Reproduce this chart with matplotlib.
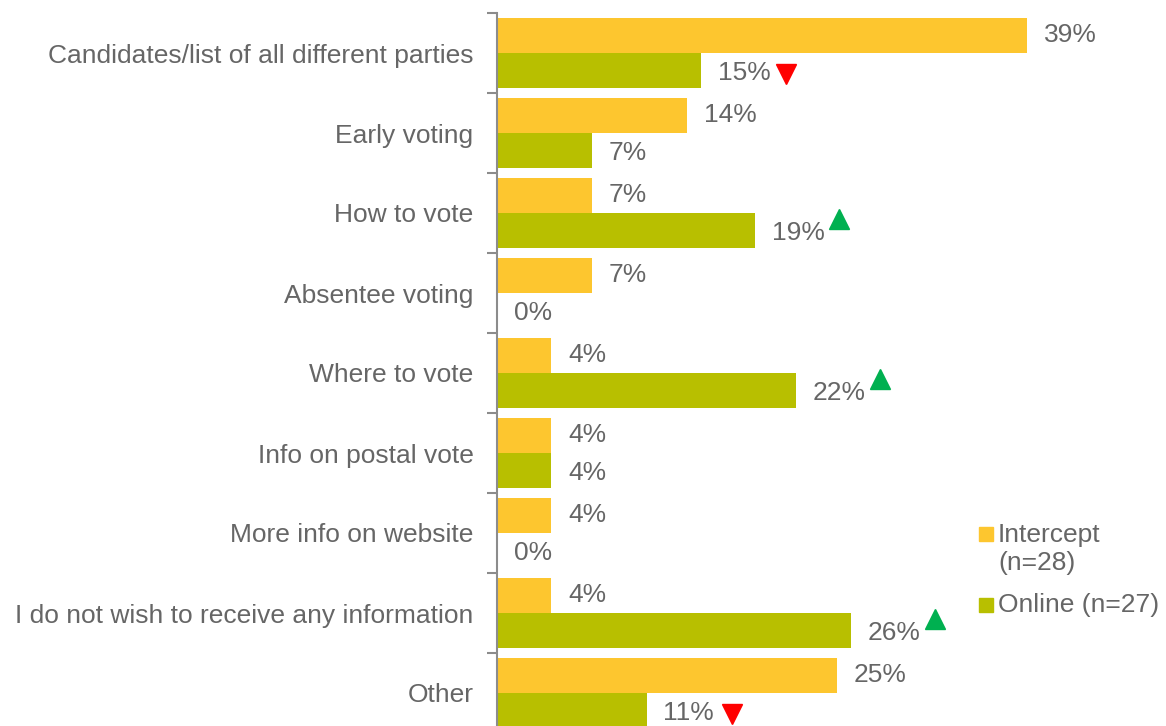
import matplotlib
matplotlib.use("Agg")
import matplotlib.pyplot as plt
from matplotlib.patches import Rectangle
from matplotlib.transforms import offset_copy

plt.rcParams['font.family'] = ['Liberation Sans', 'DejaVu Sans']

categories = [
    "Candidates/list of all different parties",
    "Early voting",
    "How to vote",
    "Absentee voting",
    "Where to vote",
    "Info on postal vote",
    "More info on website",
    "I do not wish to receive any information",
    "Other",
]
intercept = [39, 14, 7, 7, 4, 4, 4, 4, 25]
online = [15, 7, 19, 0, 22, 4, 0, 26, 11]
# significance flags for the online series: +1 higher, -1 lower, 0 none
online_sig = [-1, 0, 1, 0, 1, 0, 0, 1, -1]
series_labels = ["Intercept\n(n=28)", "Online (n=27)"]

C_INT = "#FDC62F"
C_ONL = "#B8BF00"
TXT = "#666666"
AXC = "#8C8C8C"
FS = 19

W, H = 1166, 726
fig = plt.figure(figsize=(W / 100, H / 100), dpi=100)
# axes spans 13px..733px vertically (last group runs past the bottom edge)
ax = fig.add_axes([497 / W, (H - 733) / H, 612 / W, 720 / H])
ax.set_xlim(0, 45)
n = len(categories)
ax.set_ylim(n, 0)

bh = 35 / 80
up_tr = offset_copy(ax.transData, fig=fig, x=84, y=12, units='dots')
dn_tr = offset_copy(ax.transData, fig=fig, x=85, y=-3, units='dots')
for i in range(n):
    yi = i + 0.5 - bh / 2
    yo = i + 0.5 + bh / 2
    ax.barh(yi, intercept[i], height=bh, color=C_INT, align='center')
    ax.barh(yo, online[i], height=bh, color=C_ONL, align='center')
    ax.annotate(f"{intercept[i]}%", xy=(intercept[i], yi), xytext=(12, 0),
                textcoords='offset points', va='center', ha='left', fontsize=FS, color=TXT)
    ax.annotate(f"{online[i]}%", xy=(online[i], yo), xytext=(12, -2),
                textcoords='offset points', va='center', ha='left', fontsize=FS, color=TXT)
    if online_sig[i] > 0:
        ax.plot(online[i], yo, marker='^', markersize=14, color="#00B050",
                linestyle='none', transform=up_tr, clip_on=False)
    elif online_sig[i] < 0:
        ax.plot(online[i], yo, marker='v', markersize=14, color="#FF0000",
                linestyle='none', transform=dn_tr, clip_on=False)

ax.set_yticks(range(n + 1))
ax.set_yticklabels([])
ax.set_yticks([i + 0.5 for i in range(n)], minor=True)
ax.set_yticklabels(categories, minor=True, fontsize=FS, color=TXT)
ax.tick_params(axis='y', which='major', length=7, width=1.5, color=AXC, direction='out')
ax.tick_params(axis='y', which='minor', length=0, pad=17)
ax.set_xticks([])
for s in ['top', 'right', 'bottom']:
    ax.spines[s].set_visible(False)
ax.spines['left'].set_color(AXC)
ax.spines['left'].set_linewidth(1.5)

# legend
def fy(py):
    return (H - py) / H

fig.patches.append(Rectangle((979 / W, fy(541)), 14 / W, 14 / H, color=C_INT,
                             transform=fig.transFigure, figure=fig))
fig.patches.append(Rectangle((979 / W, fy(612)), 14 / W, 14 / H, color=C_ONL,
                             transform=fig.transFigure, figure=fig))
fig.text(998 / W, fy(549), series_labels[0], fontsize=FS, color=TXT, va='center',
         ha='left', linespacing=1.2)
fig.text(998 / W, fy(605), series_labels[1], fontsize=FS, color=TXT, va='center', ha='left')

fig.savefig("out.png", dpi=100)
